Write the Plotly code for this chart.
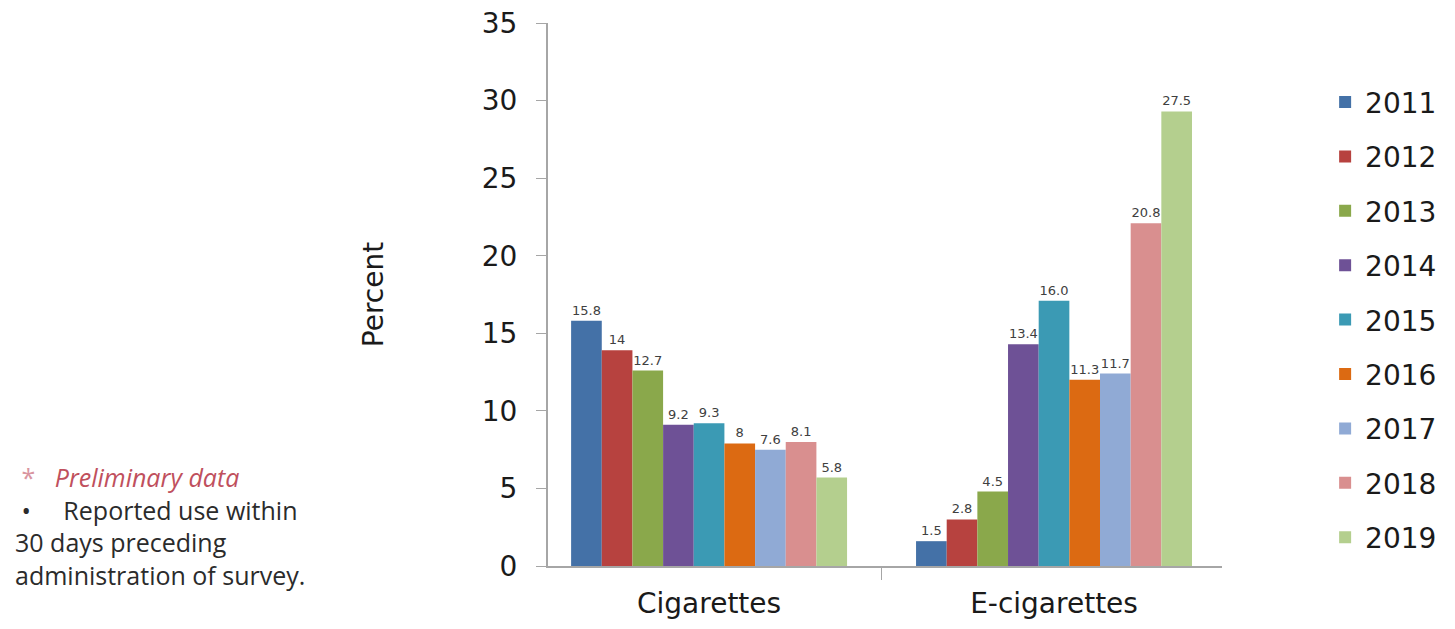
import plotly.graph_objects as go

categories = ["Cigarettes", "E-cigarettes"]
years = ["2011", "2012", "2013", "2014", "2015", "2016", "2017", "2018", "2019"]
# bar heights as drawn in the picture (percent)
cig_heights = [15.8, 13.9, 12.6, 9.1, 9.2, 7.9, 7.5, 8.0, 5.7]
ecig_heights = [1.6, 3.0, 4.8, 14.3, 17.1, 12.0, 12.4, 22.1, 29.3]
# data labels as printed above the bars
cig_labels = ["15.8", "14", "12.7", "9.2", "9.3", "8", "7.6", "8.1", "5.8"]
ecig_labels = ["1.5", "2.8", "4.5", "13.4", "16.0", "11.3", "11.7", "20.8", "27.5"]
colors = ["#4471a7", "#b7423f", "#8aa84b", "#6e5196", "#3b9ab4",
          "#dc6a12", "#90aad5", "#d98f8f", "#b4cf8e"]
y_ticks = [0, 5, 10, 15, 20, 25, 30, 35]

FONT = "DejaVu Sans, Liberation Sans, Arial"

fig = go.Figure()
for i, yr in enumerate(years):
    fig.add_trace(go.Bar(
        name=yr,
        legendgroup=yr,
        x=categories,
        y=[cig_heights[i], ecig_heights[i]],
        text=[cig_labels[i], ecig_labels[i]],
        textposition="outside",
        cliponaxis=False,
        textfont=dict(family=FONT, size=13, color="#404040"),
        marker=dict(color=colors[i], line=dict(width=0)),
        hoverinfo="skip",
    ))

# plot area in figure coords (page adds an 8px body margin)
L, R, T, B = 540, 241, 15, 71
PW, PH = 1455 - L - R, 629 - T - B

fig.update_layout(
    width=1455, height=629,
    paper_bgcolor="white", plot_bgcolor="white",
    barmode="group", bargap=0.2, bargroupgap=0,
    margin=dict(l=L, r=R, t=T, b=B, autoexpand=False),
    font=dict(family=FONT, color="#1a1a1a"),
    legend=dict(
        x=1.153, xanchor="left", y=0.9, yanchor="top",
        font=dict(family=FONT, size=28, color="#1a1a1a"),
        tracegroupgap=15, itemwidth=30,
        bgcolor="rgba(0,0,0,0)",
    ),
)
fig.update_yaxes(
    range=[0, 35], tickvals=y_ticks, ticktext=[str(v) for v in y_ticks],
    showgrid=False, zeroline=False,
    showline=True, linecolor="#a6a6a6", linewidth=2,
    ticks="outside", ticklen=10, tickcolor="#a6a6a6", tickwidth=1,
    ticklabelstandoff=13, ticklabeloverflow="allow",
    tickfont=dict(family=FONT, size=28, color="#1a1a1a"),
    title=dict(text="Percent", font=dict(family=FONT, size=28, color="#1a1a1a"), standoff=90),
)
fig.update_xaxes(
    range=[-0.467, 1.487],
    showgrid=False, showline=True, linecolor="#a6a6a6", linewidth=2,
    ticks="outside", tickson="boundaries", ticklen=12, tickcolor="#a6a6a6",
    ticklabelstandoff=11,
    tickfont=dict(family=FONT, size=28, color="#1a1a1a"),
)

NOTE_FONT = "Open Sans, Lato"
note_lines = [
    "&nbsp;<span style='color:#d9959f'>*</span>&nbsp;&nbsp;&nbsp;"
    "<span style='color:#c0505d'><i>Preliminary data</i></span>",
    "&nbsp;•&nbsp;&nbsp;&nbsp;&nbsp;&nbsp;Reported use within",
    "30 days preceding",
    "administration of survey.",
]
fig.add_annotation(
    text="<br>".join(note_lines), xref="paper", yref="paper",
    x=(5 - L) / PW, xanchor="left",
    y=1 - (518 - T) / PH, yanchor="middle",
    showarrow=False, align="left",
    font=dict(family=NOTE_FONT, size=25, color="#2b2b2b"),
)

fig.write_html("out.html")
